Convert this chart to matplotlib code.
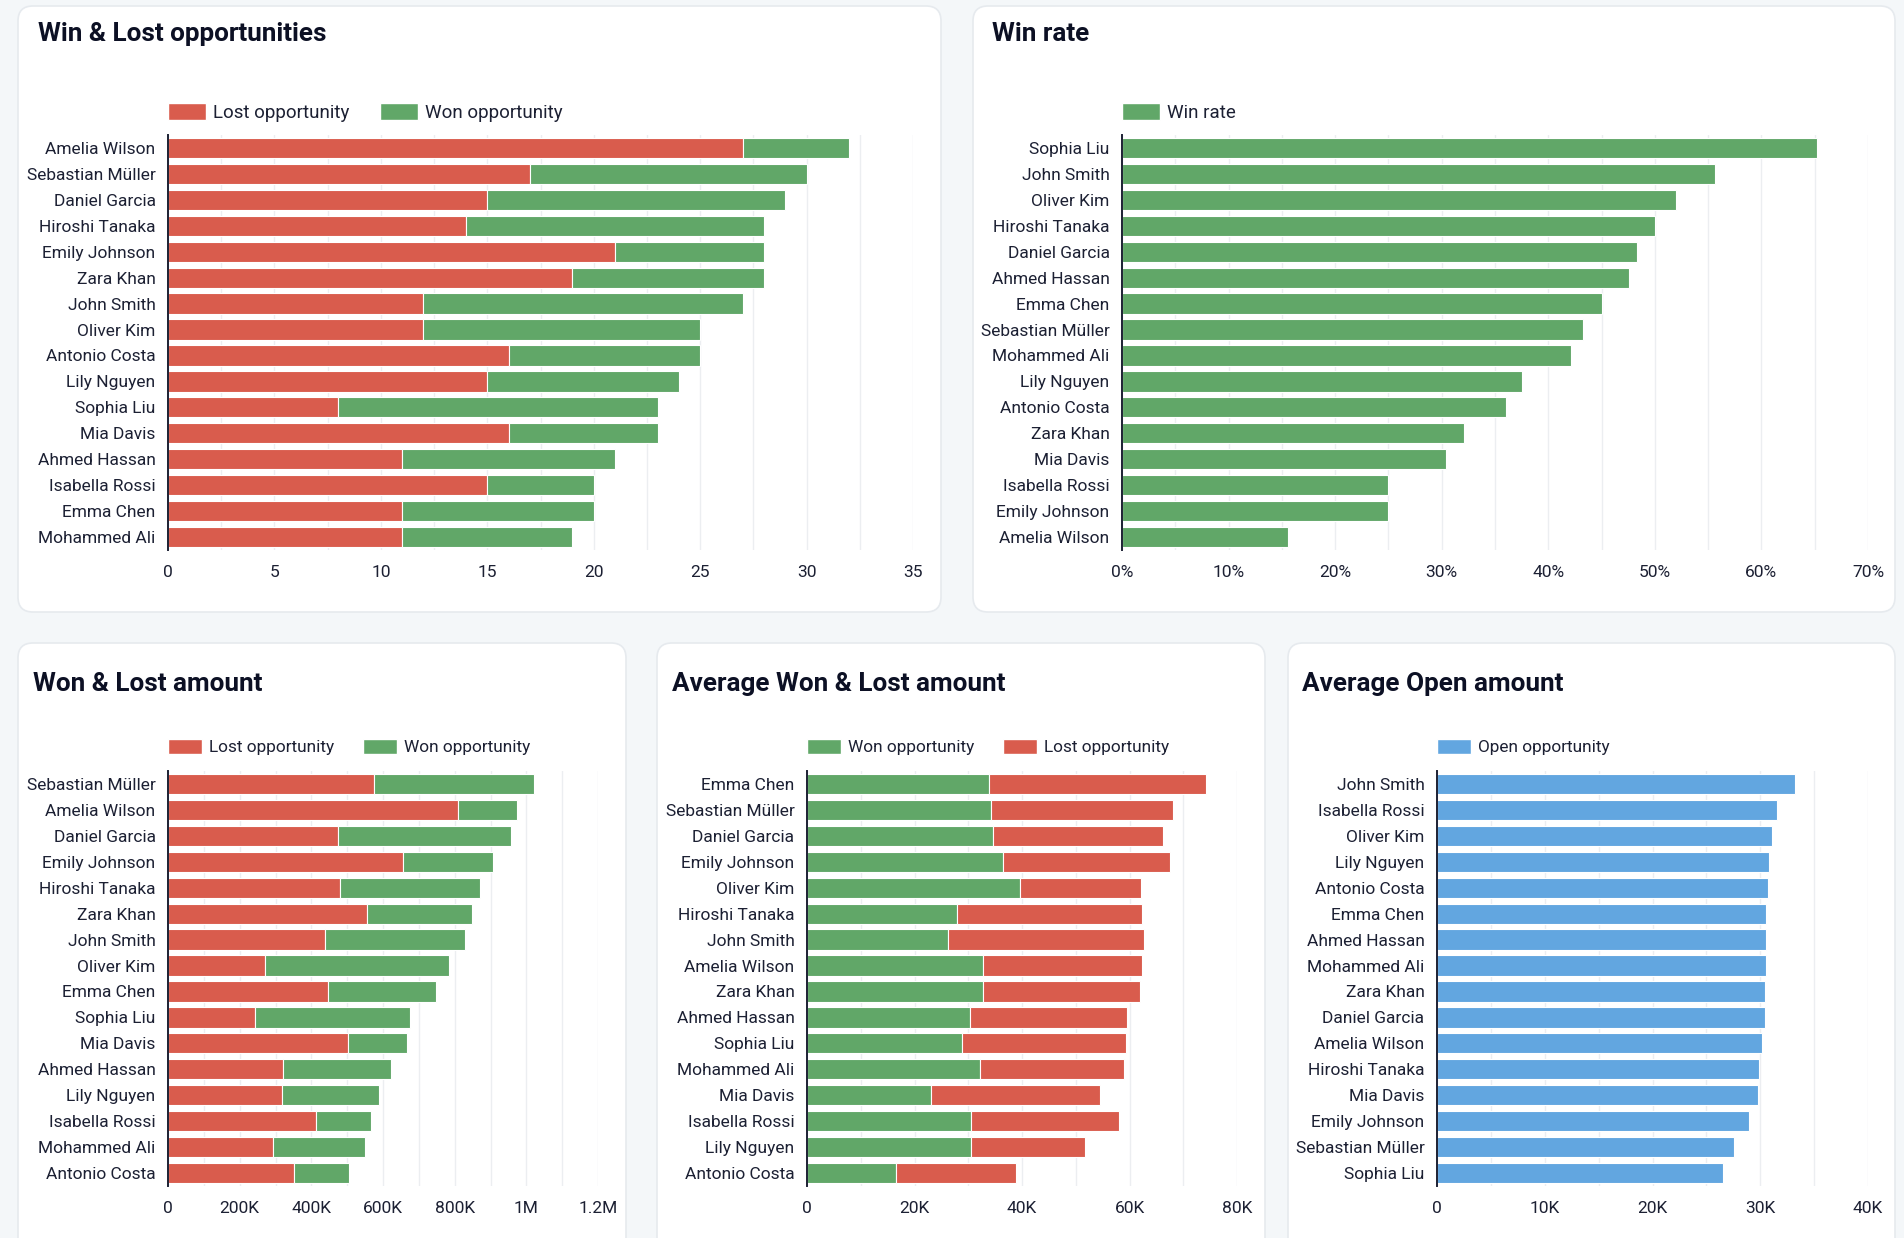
import matplotlib.pyplot as plt
from matplotlib.patches import FancyBboxPatch, Patch
from matplotlib.transforms import IdentityTransform
from matplotlib.ticker import MultipleLocator, FuncFormatter

plt.rcParams['font.family'] = ['Roboto', 'DejaVu Sans']

W, H = 1904, 1238
RED = '#d95c4d'
GREEN = '#61a768'
BLUE = '#62a6e0'
INK = '#1c2033'
TITLE_INK = '#0c1024'

# Win & Lost opportunities (count of deals)
opp_names = ['Amelia Wilson', 'Sebastian Müller', 'Daniel Garcia', 'Hiroshi Tanaka',
             'Emily Johnson', 'Zara Khan', 'John Smith', 'Oliver Kim', 'Antonio Costa',
             'Lily Nguyen', 'Sophia Liu', 'Mia Davis', 'Ahmed Hassan', 'Isabella Rossi',
             'Emma Chen', 'Mohammed Ali']
opp_lost = [27, 17, 15, 14, 21, 19, 12, 12, 16, 15, 8, 16, 11, 15, 11, 11]
opp_won = [5, 13, 14, 14, 7, 9, 15, 13, 9, 9, 15, 7, 10, 5, 9, 8]

# Win rate (%)
rate_names = ['Sophia Liu', 'John Smith', 'Oliver Kim', 'Hiroshi Tanaka', 'Daniel Garcia',
              'Ahmed Hassan', 'Emma Chen', 'Sebastian Müller', 'Mohammed Ali', 'Lily Nguyen',
              'Antonio Costa', 'Zara Khan', 'Mia Davis', 'Isabella Rossi', 'Emily Johnson',
              'Amelia Wilson']
rate_values = [65.2, 55.6, 52.0, 50.0, 48.3, 47.6, 45.0, 43.3, 42.1, 37.5, 36.0, 32.1,
               30.4, 25.0, 25.0, 15.6]

# Won & Lost amount (thousands)
amt_names = ['Sebastian Müller', 'Amelia Wilson', 'Daniel Garcia', 'Emily Johnson',
             'Hiroshi Tanaka', 'Zara Khan', 'John Smith', 'Oliver Kim', 'Emma Chen',
             'Sophia Liu', 'Mia Davis', 'Ahmed Hassan', 'Lily Nguyen', 'Isabella Rossi',
             'Mohammed Ali', 'Antonio Costa']
amt_lost = [575, 808, 475, 655, 479, 555, 438, 270, 446, 242, 503, 321, 317, 414, 293, 353]
amt_won = [446, 165, 481, 253, 393, 293, 390, 513, 301, 432, 163, 301, 273, 153, 256, 153]

# Average Won & Lost amount (thousands)
avg_names = ['Emma Chen', 'Sebastian Müller', 'Daniel Garcia', 'Emily Johnson', 'Oliver Kim',
             'Hiroshi Tanaka', 'John Smith', 'Amelia Wilson', 'Zara Khan', 'Ahmed Hassan',
             'Sophia Liu', 'Mohammed Ali', 'Mia Davis', 'Isabella Rossi', 'Lily Nguyen',
             'Antonio Costa']
avg_won = [33.8, 34.3, 34.6, 36.4, 39.7, 27.9, 26.3, 32.7, 32.7, 30.3, 28.9, 32.2, 23.0,
           30.6, 30.6, 16.6]
avg_lost = [40.5, 33.8, 31.6, 31.2, 22.5, 34.5, 36.4, 29.7, 29.2, 29.2, 30.4, 26.8, 31.6,
            27.5, 21.1, 22.2]

# Average Open amount (thousands)
open_names = ['John Smith', 'Isabella Rossi', 'Oliver Kim', 'Lily Nguyen', 'Antonio Costa',
              'Emma Chen', 'Ahmed Hassan', 'Mohammed Ali', 'Zara Khan', 'Daniel Garcia',
              'Amelia Wilson', 'Hiroshi Tanaka', 'Mia Davis', 'Emily Johnson',
              'Sebastian Müller', 'Sophia Liu']
open_values = [33.2, 31.6, 31.1, 30.8, 30.7, 30.5, 30.5, 30.5, 30.4, 30.4, 30.2, 29.9, 29.8,
               29.0, 27.6, 26.5]


fig = plt.figure(figsize=(W / 100, H / 100), dpi=100)
fig.patch.set_facecolor('#f4f7f9')


def panel(x0, y0, x1, y1, title, tx, ty):
    box = FancyBboxPatch((x0, H - y1), x1 - x0, y1 - y0,
                         boxstyle='round,pad=0,rounding_size=15',
                         transform=IdentityTransform(), facecolor='white',
                         edgecolor='#e6eaee', linewidth=1.2, zorder=0)
    fig.add_artist(box)
    fig.text((x0 + tx) / W, 1 - (y0 + ty) / H, title, fontsize=18.8, fontweight='bold',
             color=TITLE_INK, va='center', ha='left')


def k_fmt(v, pos):
    if v == 0:
        return '0'
    if v >= 1000:
        return f'{v / 1000:g}M'
    return f'{v:g}K'


def chart(left, top, right, bottom, names, series, xmax, major, fmt,
          leg_size=13.5, leg_gap=22.5):
    ax = fig.add_axes([left / W, 1 - bottom / H, (right - left) / W, (bottom - top) / H])
    ax.set_facecolor('none')
    pos = list(range(len(names)))
    base = [0] * len(names)
    for values, color, label in series:
        ax.barh(pos, values, left=base, height=0.78, color=color, edgecolor='white',
                linewidth=0.8, label=label, zorder=3)
        base = [b + v for b, v in zip(base, values)]
    ax.set_yticks(pos)
    ax.set_yticklabels(names)
    ax.set_ylim(len(names) - 0.5, -0.5)
    ax.set_xlim(0, xmax)
    ax.xaxis.set_major_locator(MultipleLocator(major))
    ax.xaxis.set_minor_locator(MultipleLocator(major / 2))
    ax.xaxis.set_major_formatter(FuncFormatter(fmt))
    ax.grid(axis='x', which='both', color='#eceef1', linewidth=1, zorder=0)
    ax.tick_params(axis='both', which='both', length=0, labelsize=12.5, colors=INK)
    ax.tick_params(axis='y', pad=9)
    ax.tick_params(axis='x', pad=11)
    for s in ['top', 'right', 'bottom']:
        ax.spines[s].set_visible(False)
    ax.spines['left'].set_color('#1c2033')
    ax.spines['left'].set_linewidth(1.4)
    ax.spines['left'].set_zorder(4)
    handles = [Patch(facecolor=c, edgecolor='white', label=l) for _, c, l in series]
    ax.legend(handles=handles, loc='center left', frameon=False, ncol=len(series),
              bbox_to_anchor=(0, 1 + leg_gap / (bottom - top)), borderaxespad=0,
              borderpad=0, fontsize=leg_size, handlelength=2.0, handleheight=1.0,
              handletextpad=0.38, columnspacing=1.67, labelcolor=INK)
    return ax


panel(18, 6, 941, 612, 'Win & Lost opportunities', 19.5, 28)
panel(973, 6, 1895, 612, 'Win rate', 19, 28)
panel(18, 643, 626, H + 20, 'Won & Lost amount', 15, 41)
panel(657, 643, 1265, H + 20, 'Average Won & Lost amount', 15.5, 41)
panel(1288, 643, 1895, H + 20, 'Average Open amount', 13.5, 41)

chart(168, 135, 913, 550, opp_names,
      [(opp_lost, RED, 'Lost opportunity'), (opp_won, GREEN, 'Won opportunity')],
      35, 5, lambda v, p: f'{v:g}')
chart(1122, 135, 1868, 550, rate_names, [(rate_values, GREEN, 'Win rate')],
      70, 10, lambda v, p: f'{v:g}%')
chart(168, 771, 598, 1186, amt_names,
      [(amt_lost, RED, 'Lost opportunity'), (amt_won, GREEN, 'Won opportunity')],
      1200, 200, k_fmt, leg_size=12.4, leg_gap=24)
chart(807, 771, 1237, 1186, avg_names,
      [(avg_won, GREEN, 'Won opportunity'), (avg_lost, RED, 'Lost opportunity')],
      80, 20, k_fmt, leg_size=12.4, leg_gap=24)
chart(1437, 771, 1868, 1186, open_names, [(open_values, BLUE, 'Open opportunity')],
      40, 10, k_fmt, leg_size=12.4, leg_gap=24)

fig.savefig('out.png', dpi=100, facecolor=fig.get_facecolor())
